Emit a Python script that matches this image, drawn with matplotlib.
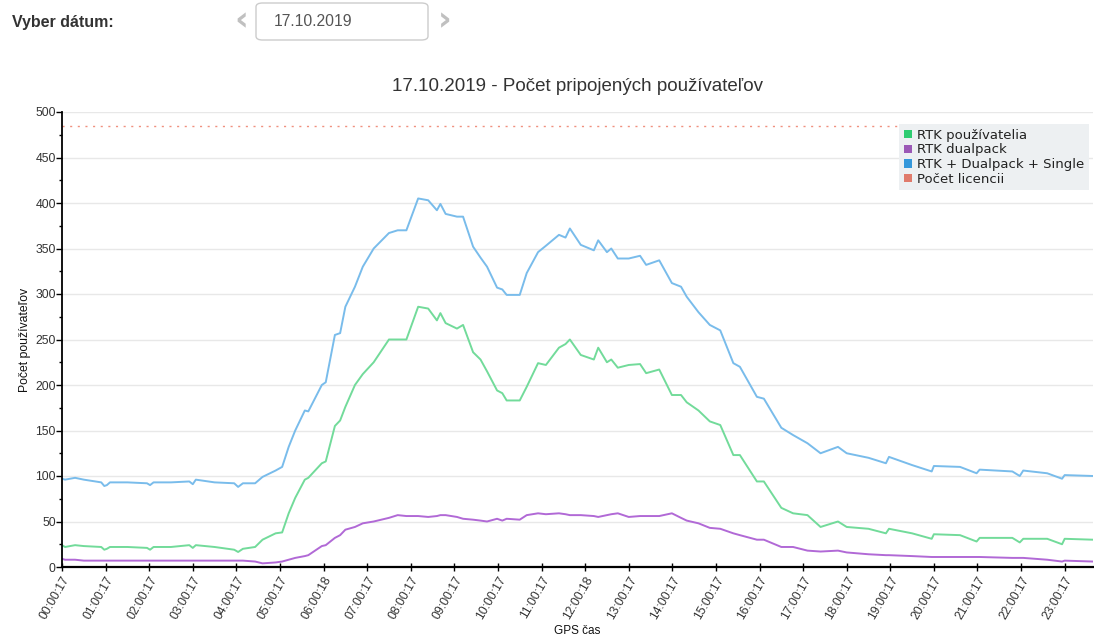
import matplotlib
matplotlib.use("Agg")
import matplotlib.pyplot as plt
from matplotlib.patches import FancyBboxPatch, Patch
from matplotlib.ticker import MultipleLocator

# hours since 00:00:17
hours = [
    0, 0.07, 0.3, 0.5, 0.9, 0.97, 1.03, 1.1, 1.5, 1.95,
    2.02, 2.1, 2.5, 2.92, 3.0, 3.07, 3.5, 3.95, 4.04, 4.15,
    4.43, 4.6, 4.9, 5.05, 5.2, 5.35, 5.57, 5.65, 5.96, 6.05,
    6.26, 6.38, 6.5, 6.72, 6.9, 7.15, 7.5, 7.7, 7.9, 8.17,
    8.4, 8.6, 8.68, 8.8, 9.06, 9.2, 9.43, 9.6, 9.75, 9.98,
    10.1, 10.2, 10.5, 10.66, 10.92, 11.1, 11.4, 11.55, 11.65, 11.9,
    12.2, 12.3, 12.5, 12.6, 12.75, 13.0, 13.26, 13.4, 13.7, 13.99,
    14.2, 14.33, 14.6, 14.86, 15.1, 15.4, 15.55, 15.94, 16.1, 16.5,
    16.77, 17.1, 17.4, 17.8, 18.0, 18.5, 18.9, 18.97, 19.5, 19.95,
    20.0, 20.6, 20.98, 21.05, 21.8, 21.97, 22.05, 22.6, 22.94, 23.0,
    23.65,
]

rtk_users = [
    24, 22, 24, 23, 22, 19, 20, 22, 22, 21,
    19, 22, 22, 24, 21, 24, 22, 19, 16.5, 20,
    22, 30, 37, 38, 59, 76, 96, 98, 114, 116,
    155, 161, 176, 200, 212, 225, 250, 250, 250, 286,
    284, 271, 279, 268, 262, 266, 236, 228, 215, 194,
    191, 183, 183, 198, 224, 222, 241, 245, 250, 233,
    228, 241, 225, 228, 219, 222, 223, 213, 217, 189,
    189, 181, 172, 160, 156, 123, 123, 94, 94, 65,
    59, 57, 44, 50, 44, 42, 37, 42, 37, 31,
    36, 35, 28, 32, 32, 27, 31, 31, 25, 31,
    30,
]

rtk_dualpack = [
    9, 8, 8, 7, 7, 7, 7, 7, 7, 7,
    7, 7, 7, 7, 7, 7, 7, 7, 7, 7,
    6, 4, 5, 6, 8, 10, 12, 13, 23, 24,
    32, 35, 41, 44, 48, 50, 54, 57, 56, 56,
    55, 56, 57, 57, 55, 53, 52, 51, 50, 53,
    51, 53, 52, 57, 59, 58, 59, 58, 57, 57,
    56, 55, 57, 58, 59, 55, 56, 56, 56, 59,
    54, 51, 48, 43, 42, 37, 35, 30, 30, 22,
    22, 18, 17, 18, 16, 14, 13, 13, 12, 11,
    11, 11, 11, 11, 10, 10, 10, 8, 6, 7,
    6,
]

rtk_all = [
    97, 96, 98, 96, 93, 89, 90, 93, 93, 92,
    90, 93, 93, 94, 91, 96, 93, 92, 88, 92,
    92, 99, 106, 110, 132, 150, 172, 171, 200, 203,
    255, 257, 286, 308, 330, 350, 367, 370, 370, 405,
    403, 392, 399, 388, 385, 385, 352, 340, 330, 307,
    305, 299, 299, 323, 346, 353, 365, 362, 372, 354,
    348, 359, 346, 350, 339, 339, 342, 332, 337, 312,
    308, 297, 280, 266, 260, 224, 220, 187, 185, 153,
    145, 136, 125, 132, 125, 120, 114, 121, 112, 105,
    111, 110, 103, 107, 105, 100, 106, 103, 97, 101,
    100,
]

licence_count = 485

tick_labels = [
    "00:00:17", "01:00:17", "02:00:17", "03:00:17", "04:00:17", "05:00:17",
    "06:00:18", "07:00:17", "08:00:17", "09:00:17", "10:00:17", "11:00:17",
    "12:00:18", "13:00:17", "14:00:17", "15:00:17", "16:00:17", "17:00:17",
    "18:00:17", "19:00:17", "20:00:17", "21:00:17", "22:00:17", "23:00:17",
]

series_labels = ["RTK používatelia", "RTK dualpack", "RTK + Dualpack + Single", "Počet licencii"]
line_colors = ["#72db9a", "#b169d6", "#79bceb", "#f0907f"]
legend_colors = ["#2ecc71", "#9b59b6", "#3498db", "#e07b6c"]

plt.rcParams["font.family"] = ["Liberation Sans", "DejaVu Sans"]

fig = plt.figure(figsize=(10.94, 6.41), dpi=100)

# header: date picker
fig.text(12 / 1094, 1 - 22 / 641, "Vyber dátum:", fontsize=11.5, weight="bold",
         color="#333333", va="center")
fig.text(241 / 1094, 1 - 21 / 641, "‹", fontsize=24, weight="bold", color="#c0c0c0",
         va="center", ha="center", family="DejaVu Sans")
fig.text(445 / 1094, 1 - 21 / 641, "›", fontsize=24, weight="bold", color="#c0c0c0",
         va="center", ha="center", family="DejaVu Sans")
box = FancyBboxPatch((256 / 1094, 1 - 40 / 641), 172 / 1094, 37 / 641,
                     boxstyle="round,pad=0,rounding_size=0.006",
                     transform=fig.transFigure, facecolor="white",
                     edgecolor="#cccccc", linewidth=1)
fig.patches.append(box)
fig.text(274 / 1094, 1 - 22 / 641, "17.10.2019", fontsize=11.3, color="#555555", va="center")

ax = fig.add_axes([62 / 1094, 74 / 641, 1031 / 1094, 455 / 641])
ax.plot(hours, rtk_users, color=line_colors[0], lw=1.4)
ax.plot(hours, rtk_dualpack, color=line_colors[1], lw=1.4)
ax.plot(hours, rtk_all, color=line_colors[2], lw=1.4)
ax.axhline(licence_count, color=line_colors[3], lw=1, linestyle=(0, (1.5, 4)))

ax.set_xlim(0, 23.65)
ax.set_ylim(0, 500)
ax.set_xticks(range(len(tick_labels)))
ax.set_xticklabels(tick_labels, rotation=60, ha="right", va="top",
                   rotation_mode="anchor", fontsize=8.8, color="#333333")
ax.yaxis.set_major_locator(MultipleLocator(50))
ax.yaxis.set_minor_locator(MultipleLocator(25))
ax.tick_params(axis="y", labelsize=8.8, labelcolor="#333333", length=4, width=1, pad=0.5)
ax.tick_params(axis="y", which="minor", length=2.5, width=1)
ax.tick_params(axis="x", direction="inout", length=6, width=1, pad=2)
ax.grid(axis="y", color="#e8e8e8", lw=1)
ax.set_axisbelow(True)
for side in ("top", "right"):
    ax.spines[side].set_visible(False)
ax.spines["left"].set_linewidth(1.3)
ax.spines["bottom"].set_linewidth(1.6)

ax.set_title("17.10.2019 - Počet pripojených používateľov", fontsize=13.5, color="#333333", pad=15)
ax.set_ylabel("Počet používateľov", fontsize=8.8, color="#111111", labelpad=3)
ax.set_xlabel("GPS čas", fontsize=8.5, color="#111111", labelpad=3)

handles = [Patch(facecolor=c, edgecolor="none") for c in legend_colors]
leg = ax.legend(handles, series_labels, loc="upper right", bbox_to_anchor=(0.996, 0.973),
                frameon=True, fancybox=False, handlelength=0.6,
                handleheight=0.6, handletextpad=0.4, labelspacing=0.12,
                borderpad=0.35, borderaxespad=0,
                prop={"family": "DejaVu Sans", "size": 9.5})
leg.get_frame().set_facecolor("#edf0f2")
leg.get_frame().set_edgecolor("none")
leg.get_frame().set_alpha(1)
for t in leg.get_texts():
    t.set_color("#222222")

fig.savefig("out.png", dpi=100)
